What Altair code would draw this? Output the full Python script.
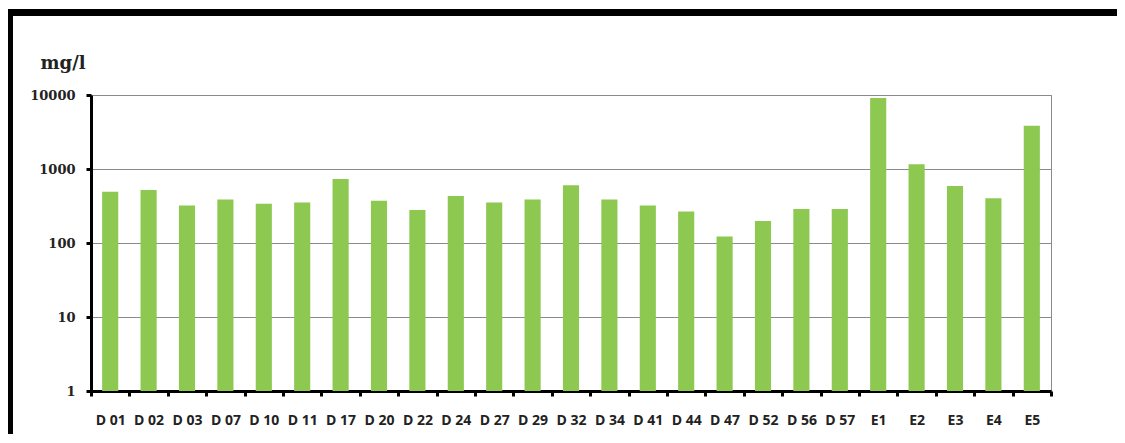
import altair as alt
import pandas as pd

sites = ["D 01", "D 02", "D 03", "D 07", "D 10", "D 11", "D 17", "D 20", "D 22", "D 24",
         "D 27", "D 29", "D 32", "D 34", "D 41", "D 44", "D 47", "D 52", "D 56", "D 57",
         "E1", "E2", "E3", "E4", "E5"]
values = [493, 520, 321, 388, 338, 353, 730, 371, 280, 431,
          353, 388, 604, 388, 321, 266, 122, 198, 288, 288,
          9100, 1160, 587, 404, 3840]
y_ticks = [1, 10, 100, 1000, 10000]

df = pd.DataFrame({"site": sites, "value": values})

bars = alt.Chart(df).mark_bar(color="#8DC850", width=alt.RelativeBandSize(0.42)).encode(
    x=alt.X("site:N", sort=sites,
            scale=alt.Scale(paddingInner=0, paddingOuter=0),
            axis=alt.Axis(title=None, labelAngle=0, tickBand="extent",
                          labelFont="Open Sans", labelFontWeight="bold",
                          labelFontSize=14, labelColor="#222222",
                          labelPadding=17, domainColor="black", domainWidth=3,
                          tickColor="black", tickWidth=3, tickSize=5, grid=False)),
    y=alt.Y("value:Q",
            scale=alt.Scale(type="log", domain=[1, 10000], nice=False),
            axis=alt.Axis(values=y_ticks, format="d", title="mg/l",
                          titleAngle=0, titleX=-51, titleY=-27,
                          titleAlign="left", titleBaseline="alphabetic",
                          titleFont="DejaVu Serif", titleFontWeight="bold",
                          titleFontSize=18, titleColor="#222222",
                          labelFont="DejaVu Serif", labelFontWeight="bold",
                          labelFontSize=13, labelColor="#222222",
                          labelPadding=11, domainColor="black", domainWidth=3,
                          tickColor="black", tickWidth=3, tickSize=5,
                          grid=True, gridColor="#8a8a8a", gridWidth=1)),
    y2=alt.datum(1),
)

frame_df = pd.DataFrame({"k": [0]})
frame_top = alt.Chart(frame_df).mark_rule(color="black", strokeWidth=7).encode(
    x=alt.value(-84), x2=alt.value(1100), y=alt.value(-82.5))
frame_left = alt.Chart(frame_df).mark_rule(color="black", strokeWidth=6).encode(
    x=alt.value(-81), y=alt.value(-86), y2=alt.value(360))

chart = alt.layer(bars, frame_top, frame_left).properties(
    width=960, height=296,
    padding={"left": 83, "top": 87, "right": 66, "bottom": 43},
    autosize=alt.AutoSizeParams(type="none"),
).configure_view(stroke="#8a8a8a", strokeWidth=1)

chart.save("out.html", embed_options={"renderer": "svg", "actions": False})
